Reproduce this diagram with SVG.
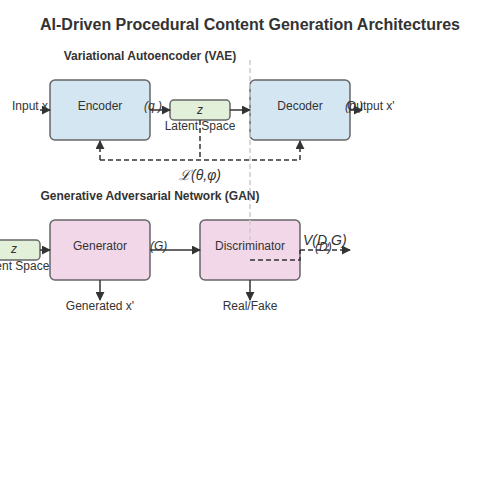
<svg xmlns="http://www.w3.org/2000/svg" width="500" height="500" viewBox="0 0 500 500">
<defs>
<marker id="ah" viewBox="0 0 10 10" refX="9" refY="5" markerWidth="6" markerHeight="6" orient="auto"><path d="M0,0 L10,5 L0,10 z" fill="#333"/></marker>
<style>
text{font-family:"Liberation Sans",Arial,sans-serif;fill:#333}
.t{font-size:16px;font-weight:bold;text-anchor:middle}
.h{font-size:12px;font-weight:bold;text-anchor:middle}
.l{font-size:12px;text-anchor:middle}
.s{font-size:12px}
.i{font-size:12px;font-style:italic}
.m{font-size:14px;font-style:italic}
.enc{fill:#d4e6f1;stroke:#666;stroke-width:1.5}
.gan{fill:#f2d7e9;stroke:#666;stroke-width:1.5}
.lat{fill:#e2efd9;stroke:#666;stroke-width:1.5}
.a{stroke:#333;stroke-width:1.5;fill:none;marker-end:url(#ah)}
.d{stroke:#333;stroke-width:1.5;fill:none;stroke-dasharray:5,3}
</style>
</defs>
<rect width="500" height="500" fill="#fff"/>
<text class="t" x="250" y="30">AI-Driven Procedural Content Generation Architectures</text>
<text class="h" x="150" y="60">Variational Autoencoder (VAE)</text>
<text class="h" x="150" y="200">Generative Adversarial Network (GAN)</text>
<g id="encoder"><rect class="enc" x="50" y="80" width="100" height="60" rx="5"/><text class="l" x="100" y="110">Encoder</text></g>
<g id="latent-vae"><rect class="lat" x="170" y="100" width="60" height="20" rx="4"/><text class="i" x="200" y="114" text-anchor="middle">z</text><text class="l" x="200" y="130">Latent Space</text></g>
<g id="decoder"><rect class="enc" x="250" y="80" width="100" height="60" rx="5"/><text class="l" x="300" y="110">Decoder</text></g>
<g id="latent-gan"><rect class="lat" x="-20" y="240" width="60" height="20" rx="4"/><text class="i" x="14" y="253" text-anchor="middle">z</text><text class="l" x="14" y="270">Latent Space</text></g>
<g id="generator"><rect class="gan" x="50" y="220" width="100" height="60" rx="5"/><text class="l" x="100" y="250">Generator</text></g>
<g id="discriminator"><rect class="gan" x="200" y="220" width="100" height="60" rx="5"/><text class="l" x="250" y="250">Discriminator</text></g>
<g id="connectors">
<line x1="250" y1="60" x2="250" y2="240" stroke="#ccc" stroke-width="1.5" stroke-dasharray="5,3"/>
<line class="a" x1="40" y1="110" x2="50" y2="110"/>
<line class="a" x1="150" y1="110" x2="170" y2="110"/>
<line class="a" x1="230" y1="110" x2="250" y2="110"/>
<line class="a" x1="350" y1="110" x2="362" y2="110"/>
<path class="d" d="M200,120 V160 M100,160 H300"/>
<line class="d" x1="100" y1="160" x2="100" y2="141" marker-end="url(#ah)"/>
<line class="d" x1="300" y1="160" x2="300" y2="141" marker-end="url(#ah)"/>
<line class="a" x1="40" y1="250" x2="50" y2="250"/>
<line class="a" x1="150" y1="250" x2="200" y2="250"/>
<line class="a" x1="100" y1="280" x2="100" y2="300"/>
<line class="a" x1="250" y1="280" x2="250" y2="300"/>
<path class="d" d="M250,260 H300 V250"/>
<line class="d" x1="300" y1="250" x2="350" y2="250" marker-end="url(#ah)"/>
</g>
<g id="labels">
<text class="s" x="12" y="110">Input x</text>
<text class="i" x="144" y="110">(q )</text>
<text class="s" x="347" y="110">Output x'</text>
<text class="i" x="345" y="110">(p )</text>
<text class="m" x="200" y="180" text-anchor="middle">ℒ(θ,φ)</text>
<text class="i" x="150" y="250">(G)</text>
<text class="l" x="100" y="310">Generated x'</text>
<text class="l" x="250" y="310">Real/Fake</text>
<text class="m" x="303" y="245">V(D,G)</text>
<text class="i" x="315" y="251">(D)</text>
</g>
</svg>
